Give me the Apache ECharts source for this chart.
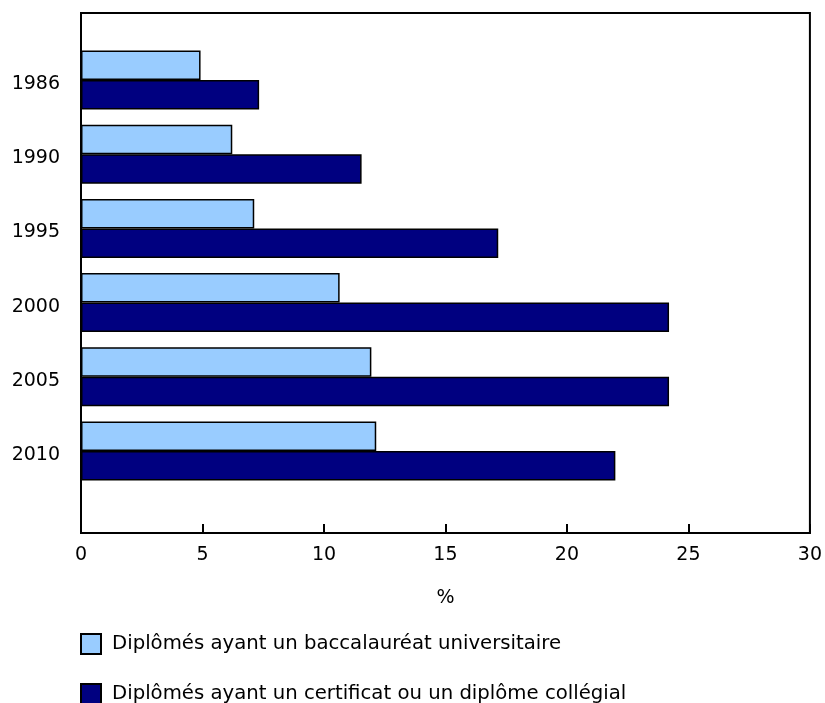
<!DOCTYPE html>
<html>
<head>
<meta charset="utf-8">
<script src="https://cdn.jsdelivr.net/npm/echarts@6/dist/echarts.min.js"></script>
<style>
html,body{margin:0;padding:0;background:#fff;}
#chart{width:825px;height:703px;}
</style>
</head>
<body>
<div id="chart"></div>
<script>
var categories = ['1986', '1990', '1995', '2000', '2005', '2010'];
var bacValues = [4.9, 6.2, 7.1, 10.6, 11.9, 12.1];
var collegeValues = [7.3, 11.5, 17.1, 24.1, 24.1, 21.9];
var seriesNames = ['Diplômés ayant un baccalauréat universitaire', 'Diplômés ayant un certificat ou un diplôme collégial'];
var xTicks = { min: 0, max: 30, interval: 5 };
var axisName = '%';

var FONT = 'DejaVu Sans';
var FS = 19;
var legendBase = {
  orient: 'horizontal', left: 80, itemWidth: 20, itemHeight: 20,
  icon: 'rect', padding: 0,
  textStyle: { color: '#000', fontSize: 19.7, fontFamily: FONT, padding: [0, 0, 0, 6] }
};
var chart = echarts.init(document.getElementById('chart'));
chart.setOption({
  animation: false,
  backgroundColor: '#fff',
  textStyle: { fontFamily: FONT },
  grid: [
    { left: 81, right: 12, top: 13, bottom: 170, show: true, borderColor: '#000', borderWidth: 2, backgroundColor: 'transparent' },
    { left: 81, right: 12, top: 43, height: 445 }
  ],
  xAxis: [
    {
      gridIndex: 0, type: 'value', min: xTicks.min, max: xTicks.max, interval: xTicks.interval,
      name: axisName, nameLocation: 'middle', nameGap: 56,
      nameTextStyle: { color: '#000', fontSize: FS, fontFamily: FONT },
      axisLine: { show: true, lineStyle: { color: '#000', width: 2 } },
      axisTick: { show: true, inside: true, length: 9, lineStyle: { color: '#000', width: 2 } },
      axisLabel: { color: '#000', fontSize: FS, fontFamily: FONT, margin: 13 },
      splitLine: { show: false }
    },
    {
      gridIndex: 1, type: 'value', min: xTicks.min, max: xTicks.max, show: false
    }
  ],
  yAxis: [
    {
      gridIndex: 0, type: 'value', min: 0, max: 1,
      axisLine: { show: true, lineStyle: { color: '#000', width: 2 } },
      axisTick: { show: false }, axisLabel: { show: false }, splitLine: { show: false }
    },
    {
      gridIndex: 1, type: 'category', data: categories, inverse: true,
      axisLine: { show: false }, axisTick: { show: false },
      axisLabel: {
        color: '#000', fontSize: FS, fontFamily: FONT, margin: 21,
        formatter: function (v) { return '{a|' + v + '}'; },
        rich: { a: { fontSize: FS, fontFamily: FONT, color: '#000', padding: [8, 0, 0, 0] } }
      },
      splitLine: { show: false }
    }
  ],
  legend: [
    Object.assign({}, legendBase, { top: 633, data: [seriesNames[0]] }),
    Object.assign({}, legendBase, { top: 683, data: [seriesNames[1]] })
  ],
  series: [
    {
      name: seriesNames[0], type: 'bar', xAxisIndex: 1, yAxisIndex: 1, data: bacValues,
      barWidth: 29.5, barGap: '0%',
      itemStyle: { color: '#99CCFF', borderColor: '#000', borderWidth: 1.5 }
    },
    {
      name: seriesNames[1], type: 'bar', xAxisIndex: 1, yAxisIndex: 1, data: collegeValues,
      barWidth: 29.5, barGap: '0%',
      itemStyle: { color: '#000080', borderColor: '#000', borderWidth: 1.5 }
    }
  ]
});
</script>
</body>
</html>
